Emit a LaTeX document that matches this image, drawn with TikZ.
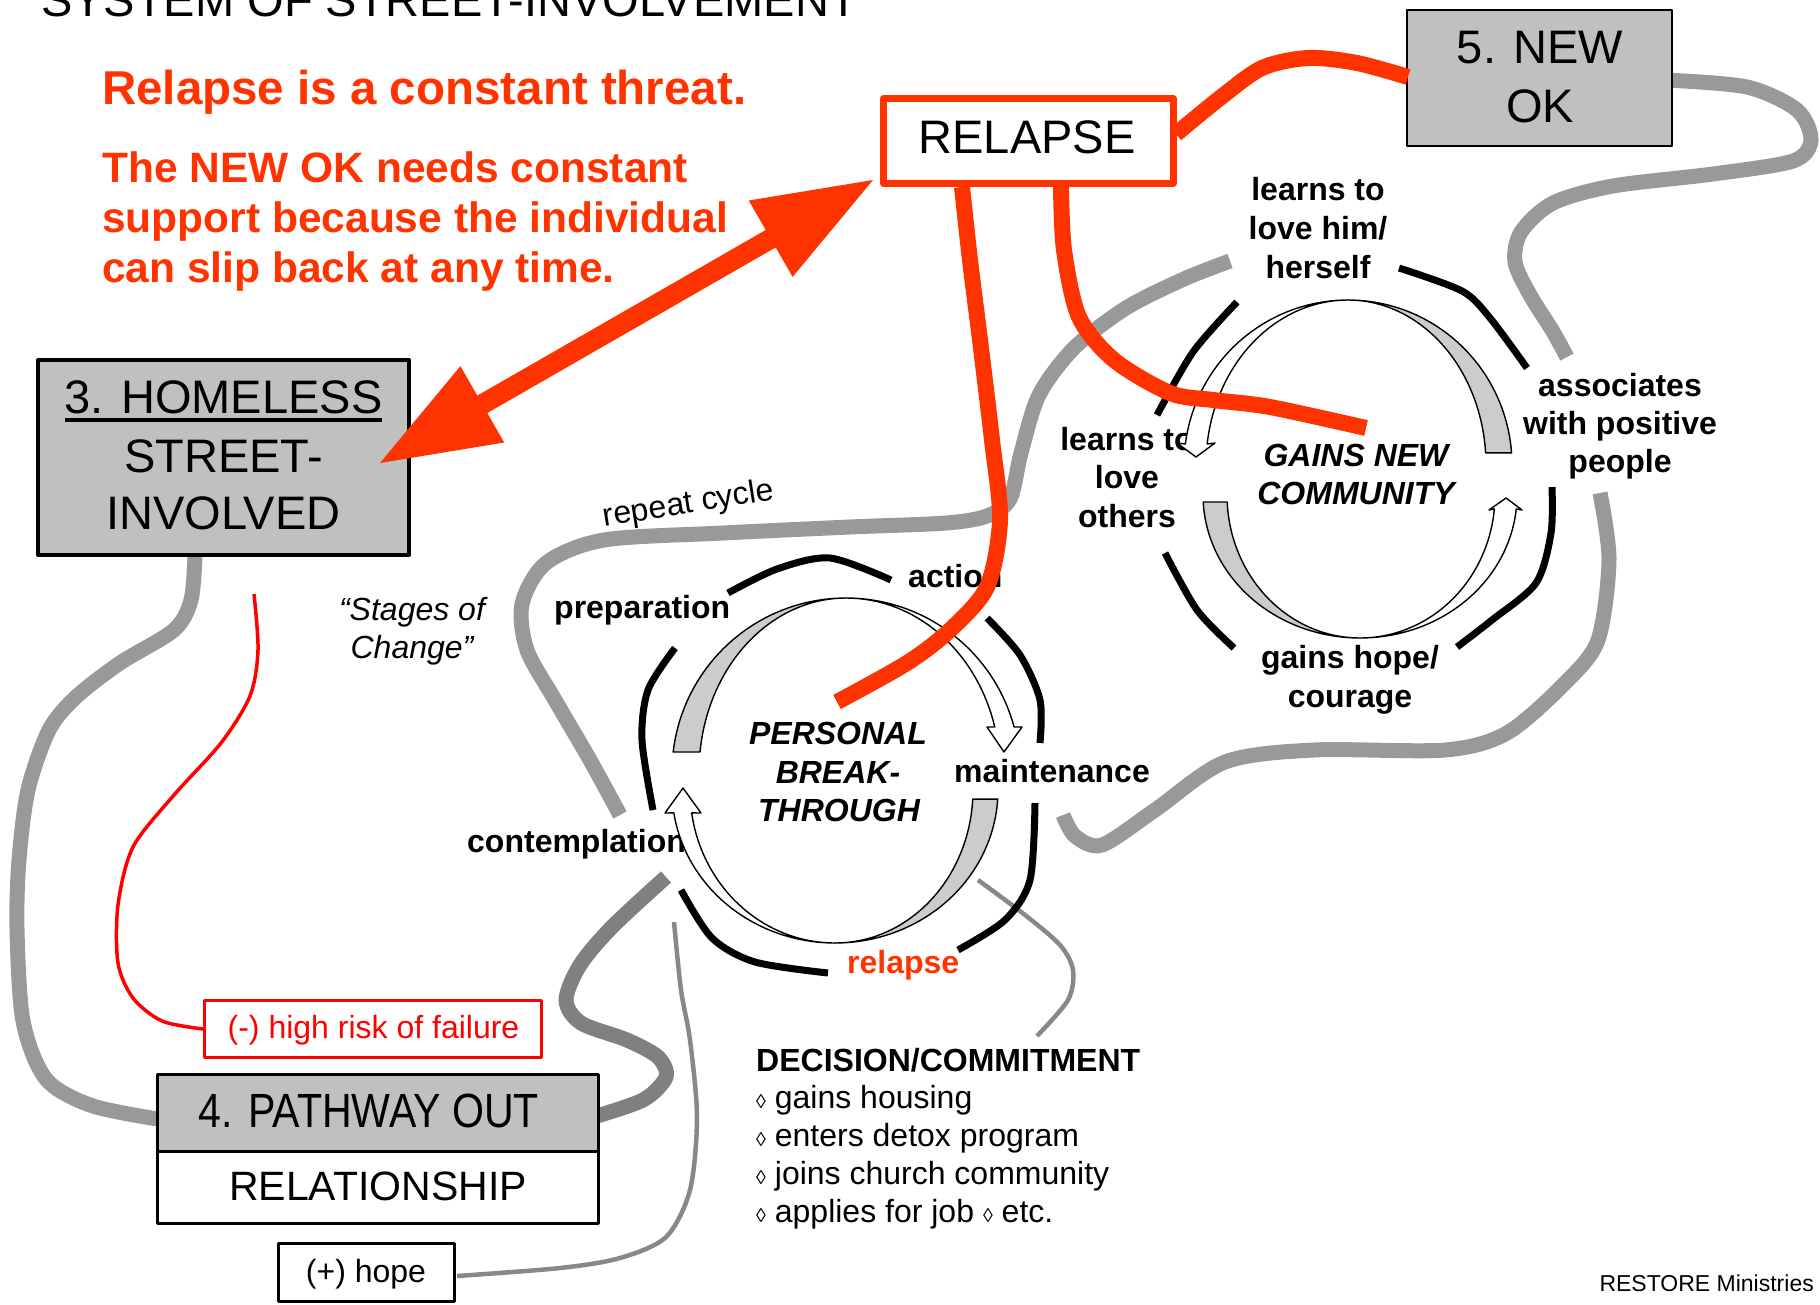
\documentclass[tikz,border=0pt]{standalone}
\usepackage{fontspec}
\setmainfont{Liberation Sans}
\usepackage{graphicx}
\definecolor{hot}{HTML}{FF3300}
\definecolor{alarm}{HTML}{FF0000}
\definecolor{boxgrey}{HTML}{C0C0C0}
\definecolor{trackgrey}{HTML}{999999}
\definecolor{trackdark}{HTML}{808080}
\definecolor{thingrey}{HTML}{888888}
\definecolor{bandgrey}{HTML}{CCCCCC}
\newcommand{\sz}[1]{\fontsize{#1}{#1}\selectfont}
\newcommand{\ulbar}[1]{\sbox0{#1}\rlap{\rule[-8.5pt]{\wd0}{3.5pt}}\usebox0}
\newcommand{\loz}{\scalebox{0.62}{◊}}
\pgfdeclarelayer{tracks}
\pgfdeclarelayer{top}
\pgfsetlayers{tracks,main,top}
\tikzset{
  track/.style={draw=trackgrey, line width=15},
  darktrack/.style={draw=trackdark, line width=15},
  thinline/.style={draw=thingrey, line width=4.5},
  redline/.style={draw=hot, line width=16},
  arcline/.style={draw=black, line width=7},
  band/.style={draw=black, line width=1.4, fill=white},
  bandback/.style={draw=black, line width=1.4, fill=bandgrey},
  stagebox/.style={draw=black, rectangle, inner sep=0pt},
  txt/.style={inner sep=0pt, anchor=base},
  big/.style={txt, font=\sz{47}},
  lab/.style={txt, font=\sz{32}\bfseries},
  hub/.style={txt, font=\sz{32}\bfseries\itshape},
  note/.style={txt, font=\sz{32}},
  warnlab/.style={txt, font=\sz{42.5}\bfseries, text=hot, anchor=base west},
}
\begin{document}
\begin{tikzpicture}[x=1pt,y=-1pt,line join=round,samples=40]
\useasboundingbox (0,0) rectangle (1820,1304);
\clip (0,0) rectangle (1820,1304);

% ---------- stage boxes ----------
\node[stagebox, fill=boxgrey, line width=4, minimum width=371, minimum height=195] (homeless) at (223.5,457.5) {};
\node[stagebox, fill=boxgrey, line width=2, minimum width=265, minimum height=136] (newok) at (1539.5,78) {};
\node[stagebox, draw=hot, fill=white, line width=7, minimum width=290, minimum height=85] (relapsebox) at (1028,141) {};
\node[stagebox, fill=boxgrey, line width=3, minimum width=441, minimum height=77] (pathway) at (378,1112.5) {};
\node[stagebox, fill=white, line width=3, minimum width=441, minimum height=72] (relation) at (378,1187) {};
\node[stagebox, draw=alarm, fill=white, line width=3, minimum width=337, minimum height=57] (risk) at (373,1029) {};
\node[stagebox, fill=white, line width=3.5, minimum width=176, minimum height=58] (hope) at (366.5,1272.5) {};

% ---------- texts ----------
\node[big, anchor=base west] (title) at (41,16) {SYSTEM OF STREET-INVOLVEMENT};
\node[txt, anchor=base west, font=\sz{47.5}\bfseries, text=hot] (threat) at (102,104) {Relapse is a constant threat.};
\node[warnlab] (sup1) at (102,182) {The NEW OK needs constant};
\node[warnlab] (sup2) at (102,232) {support because the individual};
\node[warnlab] (sup3) at (102,282) {can slip back at any time.};

\node[big] (relapsetxt) at (1027,153) {RELAPSE};
\node[big] (ok1) at (1540,63) {5. NEW};
\node[big] (ok2) at (1540,122) {OK};
\node[big] (home1) at (223.5,413) {\ulbar{3. HOMELESS}};
\node[big] (home2) at (223.5,472) {STREET-};
\node[big] (home3) at (223.5,529) {INVOLVED};
\node[txt, font=\sz{48}] (path1) at (369,1127) {\scalebox{0.856}[1]{4. PATHWAY OUT}};
\node[txt, font=\sz{41}] (path2) at (378,1200) {RELATIONSHIP};
\node[note, text=alarm] (risktxt) at (373.5,1038) {(-) high risk of failure};
\node[note] (hopetxt) at (366,1282) {(+) hope};
\node[note, font=\sz{32}\itshape] (stages1) at (412,620) {“Stages of};
\node[note, font=\sz{32}\itshape] (stages2) at (412,658) {Change”};
\node[note, rotate=9] (repeat) at (690,513) {repeat cycle};

% personal breakthrough cycle
\node[lab, anchor=base west] (prep) at (554,618) {preparation};
\node[lab, anchor=base west] (act) at (908,587) {action};
\node[lab, anchor=base west] (maint) at (954,782) {maintenance};
\node[lab, anchor=base west] (contem) at (467,852) {contemplation};
\node[lab, anchor=base west, text=hot] (relap) at (847,973) {relapse};
\node[hub] (pb1) at (838,744) {PERSONAL};
\node[hub] (pb2) at (838,783) {BREAK-};
\node[hub] (pb3) at (839,821) {THROUGH};

% new community cycle
\node[lab] (lh1) at (1318,200) {learns to};
\node[lab] (lh2) at (1318,239) {love him/};
\node[lab] (lh3) at (1318,278) {herself};
\node[lab] (as1) at (1620,396) {associates};
\node[lab] (as2) at (1620,434) {with positive};
\node[lab] (as3) at (1620,472) {people};
\node[lab] (lo1) at (1127,450) {learns to};
\node[lab] (lo2) at (1127,488) {love};
\node[lab] (lo3) at (1127,527) {others};
\node[lab] (gh1) at (1350,668) {gains hope/};
\node[lab] (gh2) at (1350,707) {courage};
\node[hub] (gc1) at (1356,466) {GAINS NEW};
\node[hub] (gc2) at (1356,504) {COMMUNITY};

\node[lab, anchor=base west] (decision) at (756,1071) {DECISION/COMMITMENT};
\node[note, anchor=base west] (dec1) at (756,1108) {\loz\ gains housing};
\node[note, anchor=base west] (dec2) at (756,1146) {\loz\ enters detox program};
\node[note, anchor=base west] (dec3) at (756,1184) {\loz\ joins church community};
\node[note, anchor=base west] (dec4) at (756,1222) {\loz\ applies for job \loz\ etc.};
\node[txt, anchor=base east, font=\sz{23}] (credit) at (1814,1291) {RESTORE Ministries};

% ---------- grey tracks (behind everything) ----------
\begin{pgfonlayer}{tracks}
\coordinate (homeOut) at (195,555);
\coordinate (pathIn) at (170,1121);
\coordinate (pathOut) at (590,1118);
\coordinate (contemEnd) at (666,877);
\coordinate (repeatStart) at (620,815);
\coordinate (herselfEnd) at (1230,261);
\coordinate (okOut) at (1665,80);
\coordinate (assocEnd) at (1567,357);
\coordinate (peopleStart) at (1600,493);
\coordinate (maintEnd) at (1063,815);
\draw[track] plot[smooth] coordinates {(homeOut) (191,600) (174,630) (120,663) (76,697) (49,730) (28,790) (19,860) (17,929) (23,1021) (46,1079) (93,1106) (pathIn)};
\draw[darktrack] plot[smooth] coordinates {(pathOut) (643,1100) (666,1077) (658,1057) (627,1040) (581,1023) (566,1000) (580,965) (612,927) (contemEnd)};
\draw[track] plot[smooth] coordinates {(repeatStart) (590,760) (555,700) (527,650) (522,604) (546,563) (604,540) (723,533) (850,527) (946,523) (987,516) (1010,499) (1021,453) (1039,395) (1074,348) (1126,308) (1184,279) (herselfEnd)};
\draw[track] plot[smooth] coordinates {(okOut) (1747,87) (1797,110) (1811,140) (1793,161) (1713,174) (1613,186) (1553,203) (1521,232) (1515,262) (1530,295) (1552,330) (assocEnd)};
\draw[track] plot[smooth] coordinates {(peopleStart) (1609,560) (1598,640) (1565,683) (1507,733) (1445,750) (1314,750) (1225,762) (1155,810) (1102,845) (1075,836) (maintEnd)};
% thin connectors
\coordinate (hopeOut) at (457,1276);
\coordinate (hopeEnd) at (674,922);
\draw[thinline] plot[smooth] coordinates {(hopeOut) (560,1268) (620,1258) (666,1237) (690,1190) (697,1117) (690,1040) (681,990) (hopeEnd)};
\coordinate (decStart) at (978,880);
\coordinate (decEnd) at (1037,1036);
\draw[thinline] plot[smooth] coordinates {(decStart) (1025,915) (1060,945) (1073,970) (1068,1000) (decEnd)};
\coordinate (riskStart) at (254,594);
\draw[alarm, line width=3.5] plot[smooth] coordinates {(riskStart) (258,650) (250,696) (221,743) (174,795) (133,847) (118,905) (118,963) (133,998) (162,1021) (risk.west)};
\end{pgfonlayer}

% ---------- personal breakthrough ring ----------
\draw[arcline] plot[smooth] coordinates {(728,593) (777,569) (830,558) (891,580)};
\draw[arcline] plot[smooth] coordinates {(987,618) (1020,655) (1040,700) (1040,743)};
\draw[arcline] plot[smooth] coordinates {(1035,803) (1030,880) (1005,920) (958,950)};
\draw[arcline] plot[smooth] coordinates {(828,973) (755,962) (712,938) (681,890)};
\draw[arcline] plot[smooth] coordinates {(653,810) (642,740) (648,690) (675,648)};
% upper curved arrow
\draw[band] plot[domain=90:15] ({846+174*cos(\x)},{772-174*sin(\x)}) -- (1022,727) -- (1004,752) -- (987,727) -- plot[domain=15:90] ({846+154*cos(\x)},{772-174*sin(\x)}) -- cycle;
\draw[bandback] plot[domain=173.4:90] ({846+174*cos(\x)},{772-174*sin(\x)}) -- plot[domain=90:173.4] ({846+147*cos(\x)},{772-174*sin(\x)}) -- cycle;
% lower curved arrow
\draw[band] plot[domain=-90:-171.4] ({835+163*cos(\x)},{790-153*sin(\x)}) -- (665,813) -- (683,788) -- (701,813) -- plot[domain=-171.4:-90] ({835+145*cos(\x)},{790-153*sin(\x)}) -- cycle;
\draw[bandback] plot[domain=-3.4:-90] ({835+163*cos(\x)},{790-153*sin(\x)}) -- plot[domain=-90:-3.4] ({835+138*cos(\x)},{790-153*sin(\x)}) -- cycle;

% ---------- new community ring ----------
\draw[arcline] plot[smooth] coordinates {(1237,302) (1193,352) (1157,415)};
\draw[arcline] plot[smooth] coordinates {(1399,268) (1462,291) (1490,318) (1527,368)};
\draw[arcline] plot[smooth] coordinates {(1552,487) (1551,533) (1536,583) (1492,620) (1457,647)};
\draw[arcline] plot[smooth] coordinates {(1165,553) (1197,610) (1234,648)};
% upper curved arrow
\draw[band] plot[domain=90:172.7] ({1348+164*cos(\x)},{465-165*sin(\x)}) -- (1177,443) -- (1196,457) -- (1215,443) -- plot[domain=172.7:90] ({1348+142*cos(\x)},{465-165*sin(\x)}) -- cycle;
\draw[bandback] plot[domain=4.2:90] ({1348+164*cos(\x)},{465-165*sin(\x)}) -- plot[domain=90:4.2] ({1348+138*cos(\x)},{465-165*sin(\x)}) -- cycle;
% lower curved arrow
\draw[band] plot[domain=-90:-5.6] ({1360+157*cos(\x)},{495-143*sin(\x)}) -- (1522,510) -- (1506,498) -- (1489,510) -- plot[domain=-5.6:-90] ({1360+135*cos(\x)},{495-143*sin(\x)}) -- cycle;
\draw[bandback] plot[domain=-177.2:-90] ({1360+157*cos(\x)},{495-143*sin(\x)}) -- plot[domain=-90:-177.2] ({1360+133*cos(\x)},{495-143*sin(\x)}) -- cycle;

% ---------- red relapse links (on top) ----------
\begin{pgfonlayer}{top}
\coordinate (relR) at (1176,134);
\coordinate (okL) at (1408,77);
\coordinate (relB1) at (962,187);
\coordinate (pbEnd) at (837,702);
\coordinate (relB2) at (1061,187);
\coordinate (gcEnd) at (1366,428);
\draw[redline] plot[smooth] coordinates {(relR) (1220,98) (1262,68) (1308,58) (1357,63) (okL)};
\draw[redline] plot[smooth] coordinates {(relB1) (970,260) (980,340) (992,440) (1000,520) (987,587) (950,630) (907,663) (pbEnd)};
\draw[redline] plot[smooth] coordinates {(relB2) (1064,250) (1079,317) (1114,360) (1170,393) (1213,400) (1270,407) (gcEnd)};
% double-headed arrow between RELAPSE and the homeless stage
\coordinate (tipU) at (873,180);
\coordinate (tipL) at (380,463);
\fill[hot] (tipU) -- (748.8,200.5) -- (765.7,230.0) -- (477.3,395.6) -- (460.4,366.1) -- (tipL)
  -- (504.2,442.5) -- (487.3,413.0) -- (775.7,247.4) -- (792.6,276.9) -- cycle;
\end{pgfonlayer}
\end{tikzpicture}
\end{document}
